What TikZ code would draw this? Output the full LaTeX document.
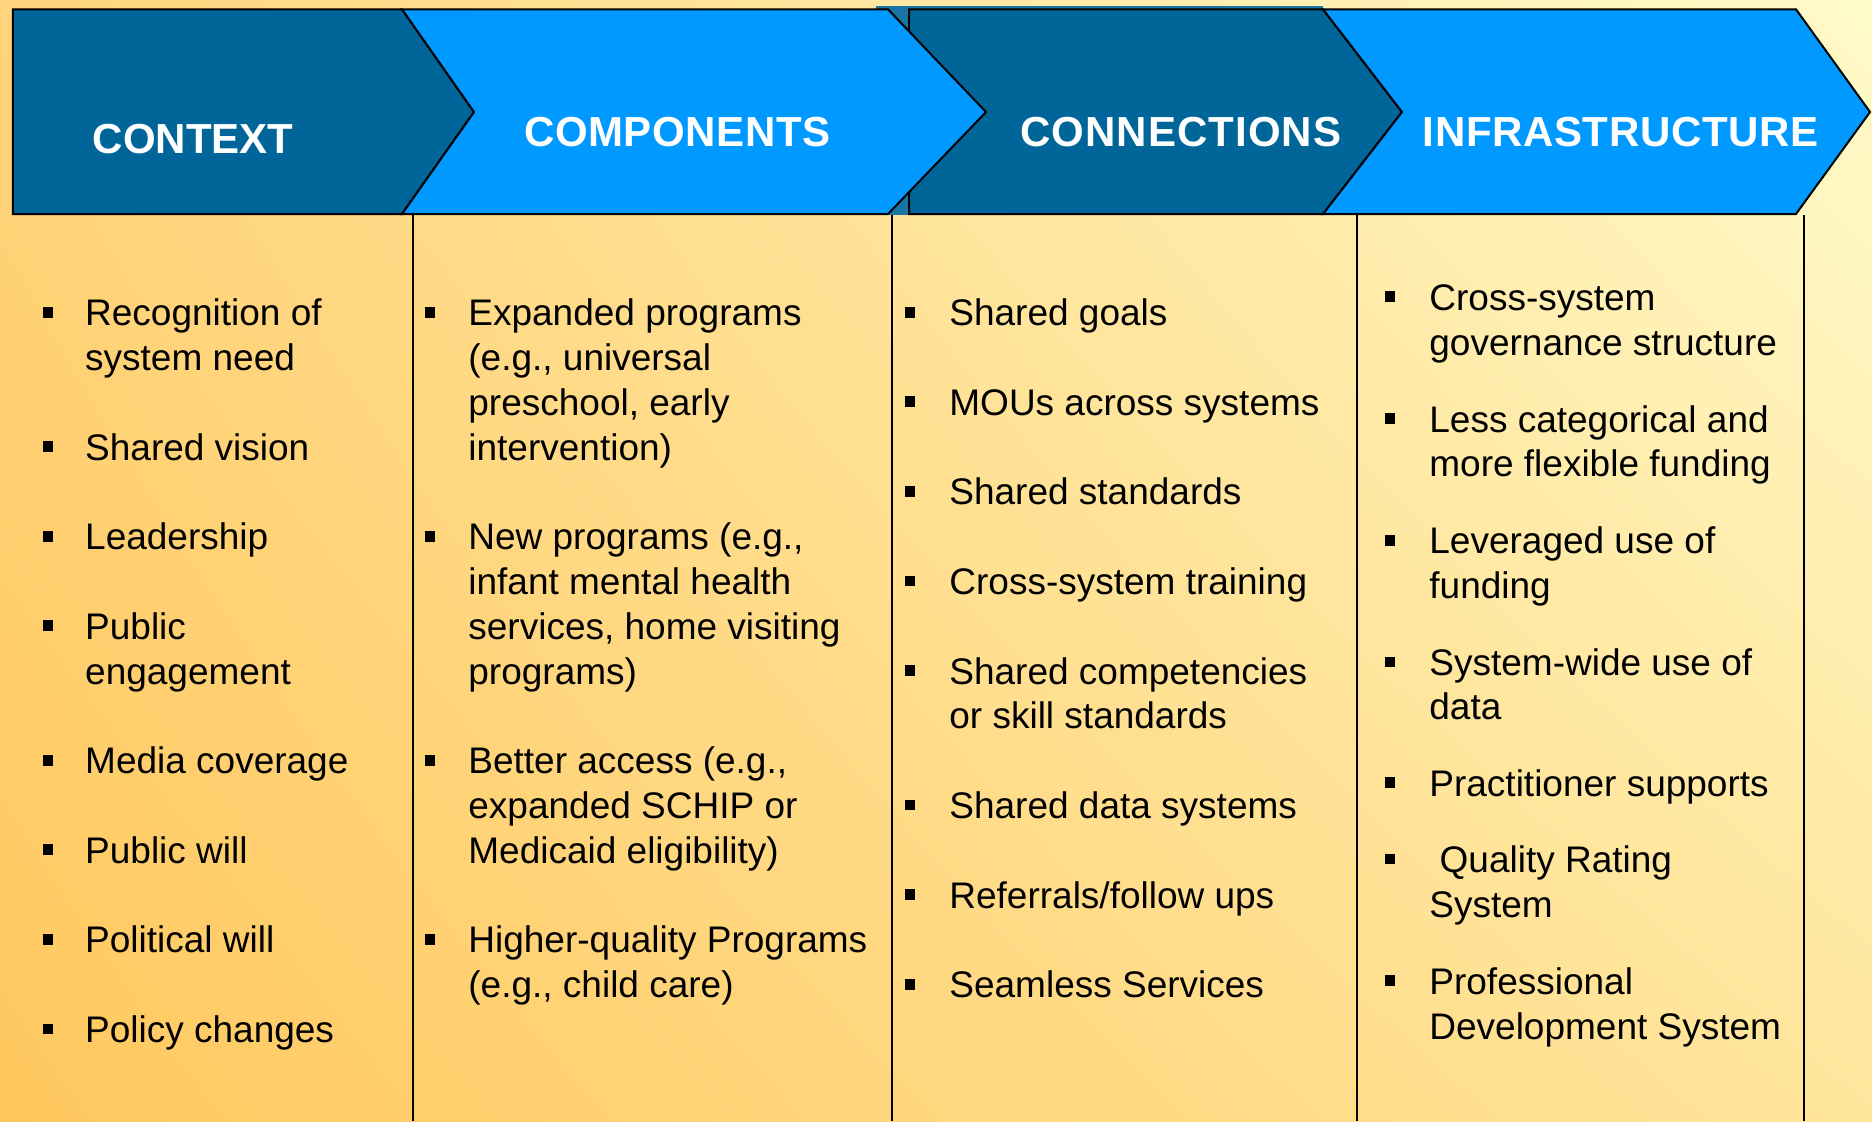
\documentclass[tikz,border=0pt]{standalone}
\usepackage{fontspec}
\setmainfont{Liberation Sans}
\usetikzlibrary{shadings}
\definecolor{darkblue}{HTML}{006699}
\definecolor{lightblue}{HTML}{0099FF}
\definecolor{bgUL}{HTML}{FFD47C}
\definecolor{bgUR}{HTML}{FFFBCA}
\definecolor{bgLL}{HTML}{FFC85E}
\definecolor{bgLR}{HTML}{FFE59C}
\tikzset{
  txt/.style={anchor=base west, inner sep=0pt, text=black, font=\fontsize{18.5}{22}\selectfont},
  bulletbox/.style={fill=black, draw=none, minimum size=5.4pt, inner sep=0pt},
  hdr/.style={anchor=base west, inner sep=0pt, text=white, font=\fontsize{21}{25}\selectfont\bfseries},
  outline/.style={draw=black, line width=1pt, line join=miter},
  divider/.style={draw=black, line width=1.1pt}
}
\newcommand\colline[4]{\node[txt] (#1) at (#2,{325.7+44.8*#3}) {#4};}
\newcommand\colbullet[3]{\node[bulletbox] (#1) at (#2,{325.7+44.8*#3-13.5}) {};}
\newcommand\freeline[4]{\node[txt] (#1) at (#2,{#3+1}) {#4};}
\newcommand\freebullet[3]{\node[bulletbox] (#1) at (#2,{#3+1-13.5}) {};}
\begin{document}
\begin{tikzpicture}[x=0.5pt,y=-0.5pt]
\useasboundingbox (0,0) rectangle (1872,1121);
% background
\shade[upper left=bgUL, upper right=bgUR, lower left=bgLL, lower right=bgLR] (0,0) rectangle (1872,1121);
% header band
\fill[darkblue!90!white] (876,6) rectangle (1323,215);
\path[outline, fill=darkblue] (12.8,9.3) -- (402,9.3) -- (474,112) -- (402,214) -- (12.8,214) -- cycle;
\path[outline, fill=darkblue] (909,9.3) -- (1323,9.3) -- (1402,112) -- (1323,214) -- (909,214) -- cycle;
\path[outline, fill=lightblue] (402,9.3) -- (888,9.3) -- (986,112) -- (888,214) -- (402,214) -- (474,112) -- cycle;
\path[outline, fill=lightblue] (1323,9.3) -- (1796,9.3) -- (1870,112) -- (1796,214) -- (1323,214) -- (1402,112) -- cycle;
% column dividers
\coordinate (d1t) at (412.6,215); \coordinate (d1b) at (412.6,1121);
\coordinate (d2t) at (891.6,215); \coordinate (d2b) at (891.6,1121);
\coordinate (d3t) at (1357,215);  \coordinate (d3b) at (1357,1121);
\coordinate (d4t) at (1804,215);  \coordinate (d4b) at (1804,1121);
\draw[divider] (d1t) -- (d1b);
\draw[divider] (d2t) -- (d2b);
\draw[divider] (d3t) -- (d3b);
\draw[divider] (d4t) -- (d4b);
% header titles
\node[hdr] (hctx) at (92.5,153) {CONTEXT};
\node[hdr] (hcmp) at (524,146.7) {\addfontfeature{LetterSpace=1.3}COMPONENTS};
\node[hdr] (hcon) at (1020,146.7) {\addfontfeature{LetterSpace=2.5}CONNECTIONS};
\node[hdr] (hinf) at (1422.5,146.7) {\addfontfeature{LetterSpace=1.5}INFRASTRUCTURE};
% column 1
\colbullet{b1a}{48}{0}\colline{t1a1}{84.8}{0}{Recognition of}\colline{t1a2}{84.8}{1}{system need}
\colbullet{b1b}{48}{3}\colline{t1b1}{84.8}{3}{Shared vision}
\colbullet{b1c}{48}{5}\colline{t1c1}{84.8}{5}{Leadership}
\colbullet{b1d}{48}{7}\colline{t1d1}{84.8}{7}{Public}\colline{t1d2}{84.8}{8}{engagement}
\colbullet{b1e}{48}{10}\colline{t1e1}{84.8}{10}{Media coverage}
\colbullet{b1f}{48}{12}\colline{t1f1}{84.8}{12}{Public will}
\colbullet{b1g}{48}{14}\colline{t1g1}{84.8}{14}{Political will}
\colbullet{b1h}{48}{16}\colline{t1h1}{84.8}{16}{Policy changes}
% column 2
\colbullet{b2a}{430}{0}\colline{t2a1}{468}{0}{Expanded programs}\colline{t2a2}{468}{1}{(e.g., universal}\colline{t2a3}{468}{2}{preschool, early}\colline{t2a4}{468}{3}{intervention)}
\colbullet{b2b}{430}{5}\colline{t2b1}{468}{5}{New programs (e.g.,}\colline{t2b2}{468}{6}{infant mental health}\colline{t2b3}{468}{7}{services, home visiting}\colline{t2b4}{468}{8}{programs)}
\colbullet{b2c}{430}{10}\colline{t2c1}{468}{10}{Better access (e.g.,}\colline{t2c2}{468}{11}{expanded SCHIP or}\colline{t2c3}{468}{12}{Medicaid eligibility)}
\colbullet{b2d}{430}{14}\colline{t2d1}{468}{14}{Higher-quality Programs}\colline{t2d2}{468}{15}{(e.g., child care)}
% column 3
\colbullet{b3a}{910}{0}\colline{t3a1}{949}{0}{Shared goals}
\colbullet{b3b}{910}{2}\colline{t3b1}{949}{2}{MOUs across systems}
\colbullet{b3c}{910}{4}\colline{t3c1}{949}{4}{Shared standards}
\colbullet{b3d}{910}{6}\colline{t3d1}{949}{6}{Cross-system training}
\colbullet{b3e}{910}{8}\colline{t3e1}{949}{8}{Shared competencies}\colline{t3e2}{949}{9}{or skill standards}
\colbullet{b3f}{910}{11}\colline{t3f1}{949}{11}{Shared data systems}
\colbullet{b3g}{910}{13}\colline{t3g1}{949}{13}{Referrals/follow ups}
\colbullet{b3h}{910}{15}\colline{t3h1}{949}{15}{Seamless Services}
% column 4
\freebullet{b4a}{1390}{309.2}\freeline{t4a1}{1429}{309.2}{Cross-system}\freeline{t4a2}{1429}{354.6}{governance structure}
\freebullet{b4b}{1390}{431.0}\freeline{t4b1}{1429}{431.0}{Less categorical and}\freeline{t4b2}{1429}{475.2}{more flexible funding}
\freebullet{b4c}{1390}{552.8}\freeline{t4c1}{1429}{552.8}{Leveraged use of}\freeline{t4c2}{1429}{597.0}{funding}
\freebullet{b4d}{1390}{674.5}\freeline{t4d1}{1429}{674.5}{System-wide use of}\freeline{t4d2}{1429}{718.7}{data}
\freebullet{b4e}{1390}{795.1}\freeline{t4e1}{1429}{795.1}{Practitioner supports}
\freebullet{b4f}{1390}{871.5}\freeline{t4f1}{1429}{871.5}{\ Quality Rating}\freeline{t4f2}{1429}{916.9}{System}
\freebullet{b4g}{1390}{993.3}\freeline{t4g1}{1429}{993.3}{Professional}\freeline{t4g2}{1429}{1038.7}{Development System}
\end{tikzpicture}
\end{document}
